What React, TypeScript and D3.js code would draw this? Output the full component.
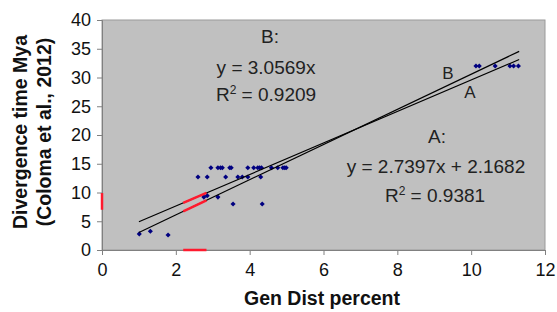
import React, { useRef, useEffect } from "react";
import * as d3 from "d3";

// points (Gen Dist percent, Divergence time Mya)
const genDist = [
  1.01, 1.31, 1.79, 2.6, 2.85, 2.76, 2.85, 2.95, 3.14, 3.21, 3.26, 3.35, 3.46,
  3.5, 3.14, 3.55, 3.68, 3.8, 3.95, 3.95, 4.11, 4.22, 4.27, 4.3, 4.32, 4.34,
  4.59, 4.76, 4.9, 4.95, 4.99, 10.13, 10.22, 10.65, 11.05, 11.15, 11.28,
];
const divTime = [
  2.8, 3.25, 2.6, 12.7, 12.7, 9.2, 9.45, 14.3, 14.3, 14.3, 14.3, 12.7, 14.3,
  14.3, 9.2, 8.0, 12.7, 12.7, 12.7, 14.3, 14.3, 14.3, 14.3, 12.7, 14.3, 8.0,
  14.3, 14.3, 14.3, 14.3, 14.3, 32, 32, 32, 32, 32, 32,
];

const xTicks = [0, 2, 4, 6, 8, 10, 12];
const yTicks = [0, 5, 10, 15, 20, 25, 30, 35, 40];

// trend lines: A  y = 2.7397x + 2.1682, B  y = 3.0569x
const fitA = { slope: 2.7397, icpt: 2.1682 };
const fitB = { slope: 3.0569, icpt: 0 };
const fitRange = [1, 11.3];

// highlighted range in red
const redX = [2.2, 2.83];
const redY = [7, 9.9];

const FONT = "'Liberation Sans', Arial, sans-serif";

const Chart = () => {
  const svgRef = useRef(null);

  useEffect(() => {
    const svg = d3.select(svgRef.current);
    svg.selectAll("*").remove();

    const margin = { top: 20, left: 102, right: 12, bottom: 62 };
    const width = 557;
    const height = 312;

    const x = d3.scaleLinear().domain([0, 12]).range([margin.left, width - margin.right]);
    const y = d3.scaleLinear().domain([0, 40]).range([height - margin.bottom, margin.top]);

    /* plot area */
    svg
      .append("rect")
      .attr("x", x(0))
      .attr("y", y(40))
      .attr("width", x(12) - x(0))
      .attr("height", y(0) - y(40))
      .attr("fill", "#c0c0c0")
      .attr("stroke", "#9a9a9a")
      .attr("stroke-width", 1);

    /* axes */
    const yAxis = svg
      .append("g")
      .attr("transform", `translate(${x(0)},0)`)
      .call(d3.axisLeft(y).tickValues(yTicks).tickSize(5).tickPadding(6));
    const xAxis = svg
      .append("g")
      .attr("transform", `translate(0,${y(0)})`)
      .call(d3.axisBottom(x).tickValues(xTicks).tickSize(5).tickPadding(8));

    [xAxis, yAxis].forEach((g) => {
      g.select(".domain").attr("stroke", "#808080");
      g.selectAll(".tick line").attr("stroke", "#808080");
      g.selectAll(".tick text")
        .attr("fill", "#111")
        .style("font-family", FONT)
        .style("font-size", "18px");
    });

    /* red highlights on axes */
    svg
      .append("line")
      .attr("x1", x(0))
      .attr("x2", x(0))
      .attr("y1", y(redY[0]))
      .attr("y2", y(redY[1]))
      .attr("stroke", "#ff1a2e")
      .attr("stroke-width", 2.5);
    svg
      .append("line")
      .attr("x1", x(redX[0]))
      .attr("x2", x(redX[1]))
      .attr("y1", y(0))
      .attr("y2", y(0))
      .attr("stroke", "#ff1a2e")
      .attr("stroke-width", 2.5);

    /* points: small diamonds */
    const marker = d3.symbol().type(d3.symbolSquare).size(13);
    svg
      .append("g")
      .selectAll("path")
      .data(genDist)
      .enter()
      .append("path")
      .attr("d", marker)
      .attr("transform", (d, i) => `translate(${x(d)},${y(divTime[i])}) rotate(45)`)
      .attr("fill", "#000080");

    /* trend lines */
    const line = d3
      .line()
      .x((d) => x(d[0]))
      .y((d) => y(d[1]));
    [fitA, fitB].forEach((f) => {
      const pts = fitRange.map((v) => [v, f.slope * v + f.icpt]);
      svg
        .append("path")
        .attr("d", line(pts))
        .attr("fill", "none")
        .attr("stroke", "#000")
        .attr("stroke-width", 1.2);
      const red = redX.map((v) => [v, f.slope * v + f.icpt]);
      svg
        .append("path")
        .attr("d", line(red))
        .attr("fill", "none")
        .attr("stroke", "#ff1a2e")
        .attr("stroke-width", 2.5);
    });

    /* annotations */
    const note = (tx, ty, str, size = 19) =>
      svg
        .append("text")
        .attr("x", tx)
        .attr("y", ty)
        .attr("text-anchor", "middle")
        .attr("fill", "#222")
        .style("font-family", FONT)
        .style("font-size", `${size}px`)
        .text(str);

    const r2 = (tx, ty, val) => {
      const t = note(tx, ty, "R");
      t.append("tspan").attr("dy", -7).style("font-size", "12px").text("2");
      t.append("tspan").attr("dy", 7).text(` = ${val}`);
    };

    note(270, 43, "B:");
    note(266, 74, "y = 3.0569x");
    r2(266, 101, "0.9209");

    note(437, 143, "A:");
    note(436, 173, "y = 2.7397x + 2.1682");
    r2(435, 202, "0.9381");

    note(448, 79, "B", 17);
    note(470, 98, "A", 17);

    /* axis titles */
    svg
      .append("text")
      .attr("x", 322)
      .attr("y", 305)
      .attr("text-anchor", "middle")
      .attr("fill", "#111")
      .style("font-family", FONT)
      .style("font-size", "19.5px")
      .style("font-weight", "bold")
      .text("Gen Dist percent");

    const yTitle = svg
      .append("text")
      .attr("transform", "translate(27,132) rotate(-90)")
      .attr("text-anchor", "middle")
      .attr("fill", "#111")
      .style("font-family", FONT)
      .style("font-size", "19.5px")
      .style("font-weight", "bold");
    yTitle.append("tspan").attr("x", 0).attr("y", 0).text("Divergence time Mya");
    yTitle.append("tspan").attr("x", 0).attr("y", 24).text("(Coloma et al., 2012)");
  }, []);

  return (
    <svg
      ref={svgRef}
      width={557}
      height={312}
      style={{ position: "absolute", left: 0, top: 0, background: "#fff" }}
    ></svg>
  );
};

export default function App() {
  return <Chart />;
}
